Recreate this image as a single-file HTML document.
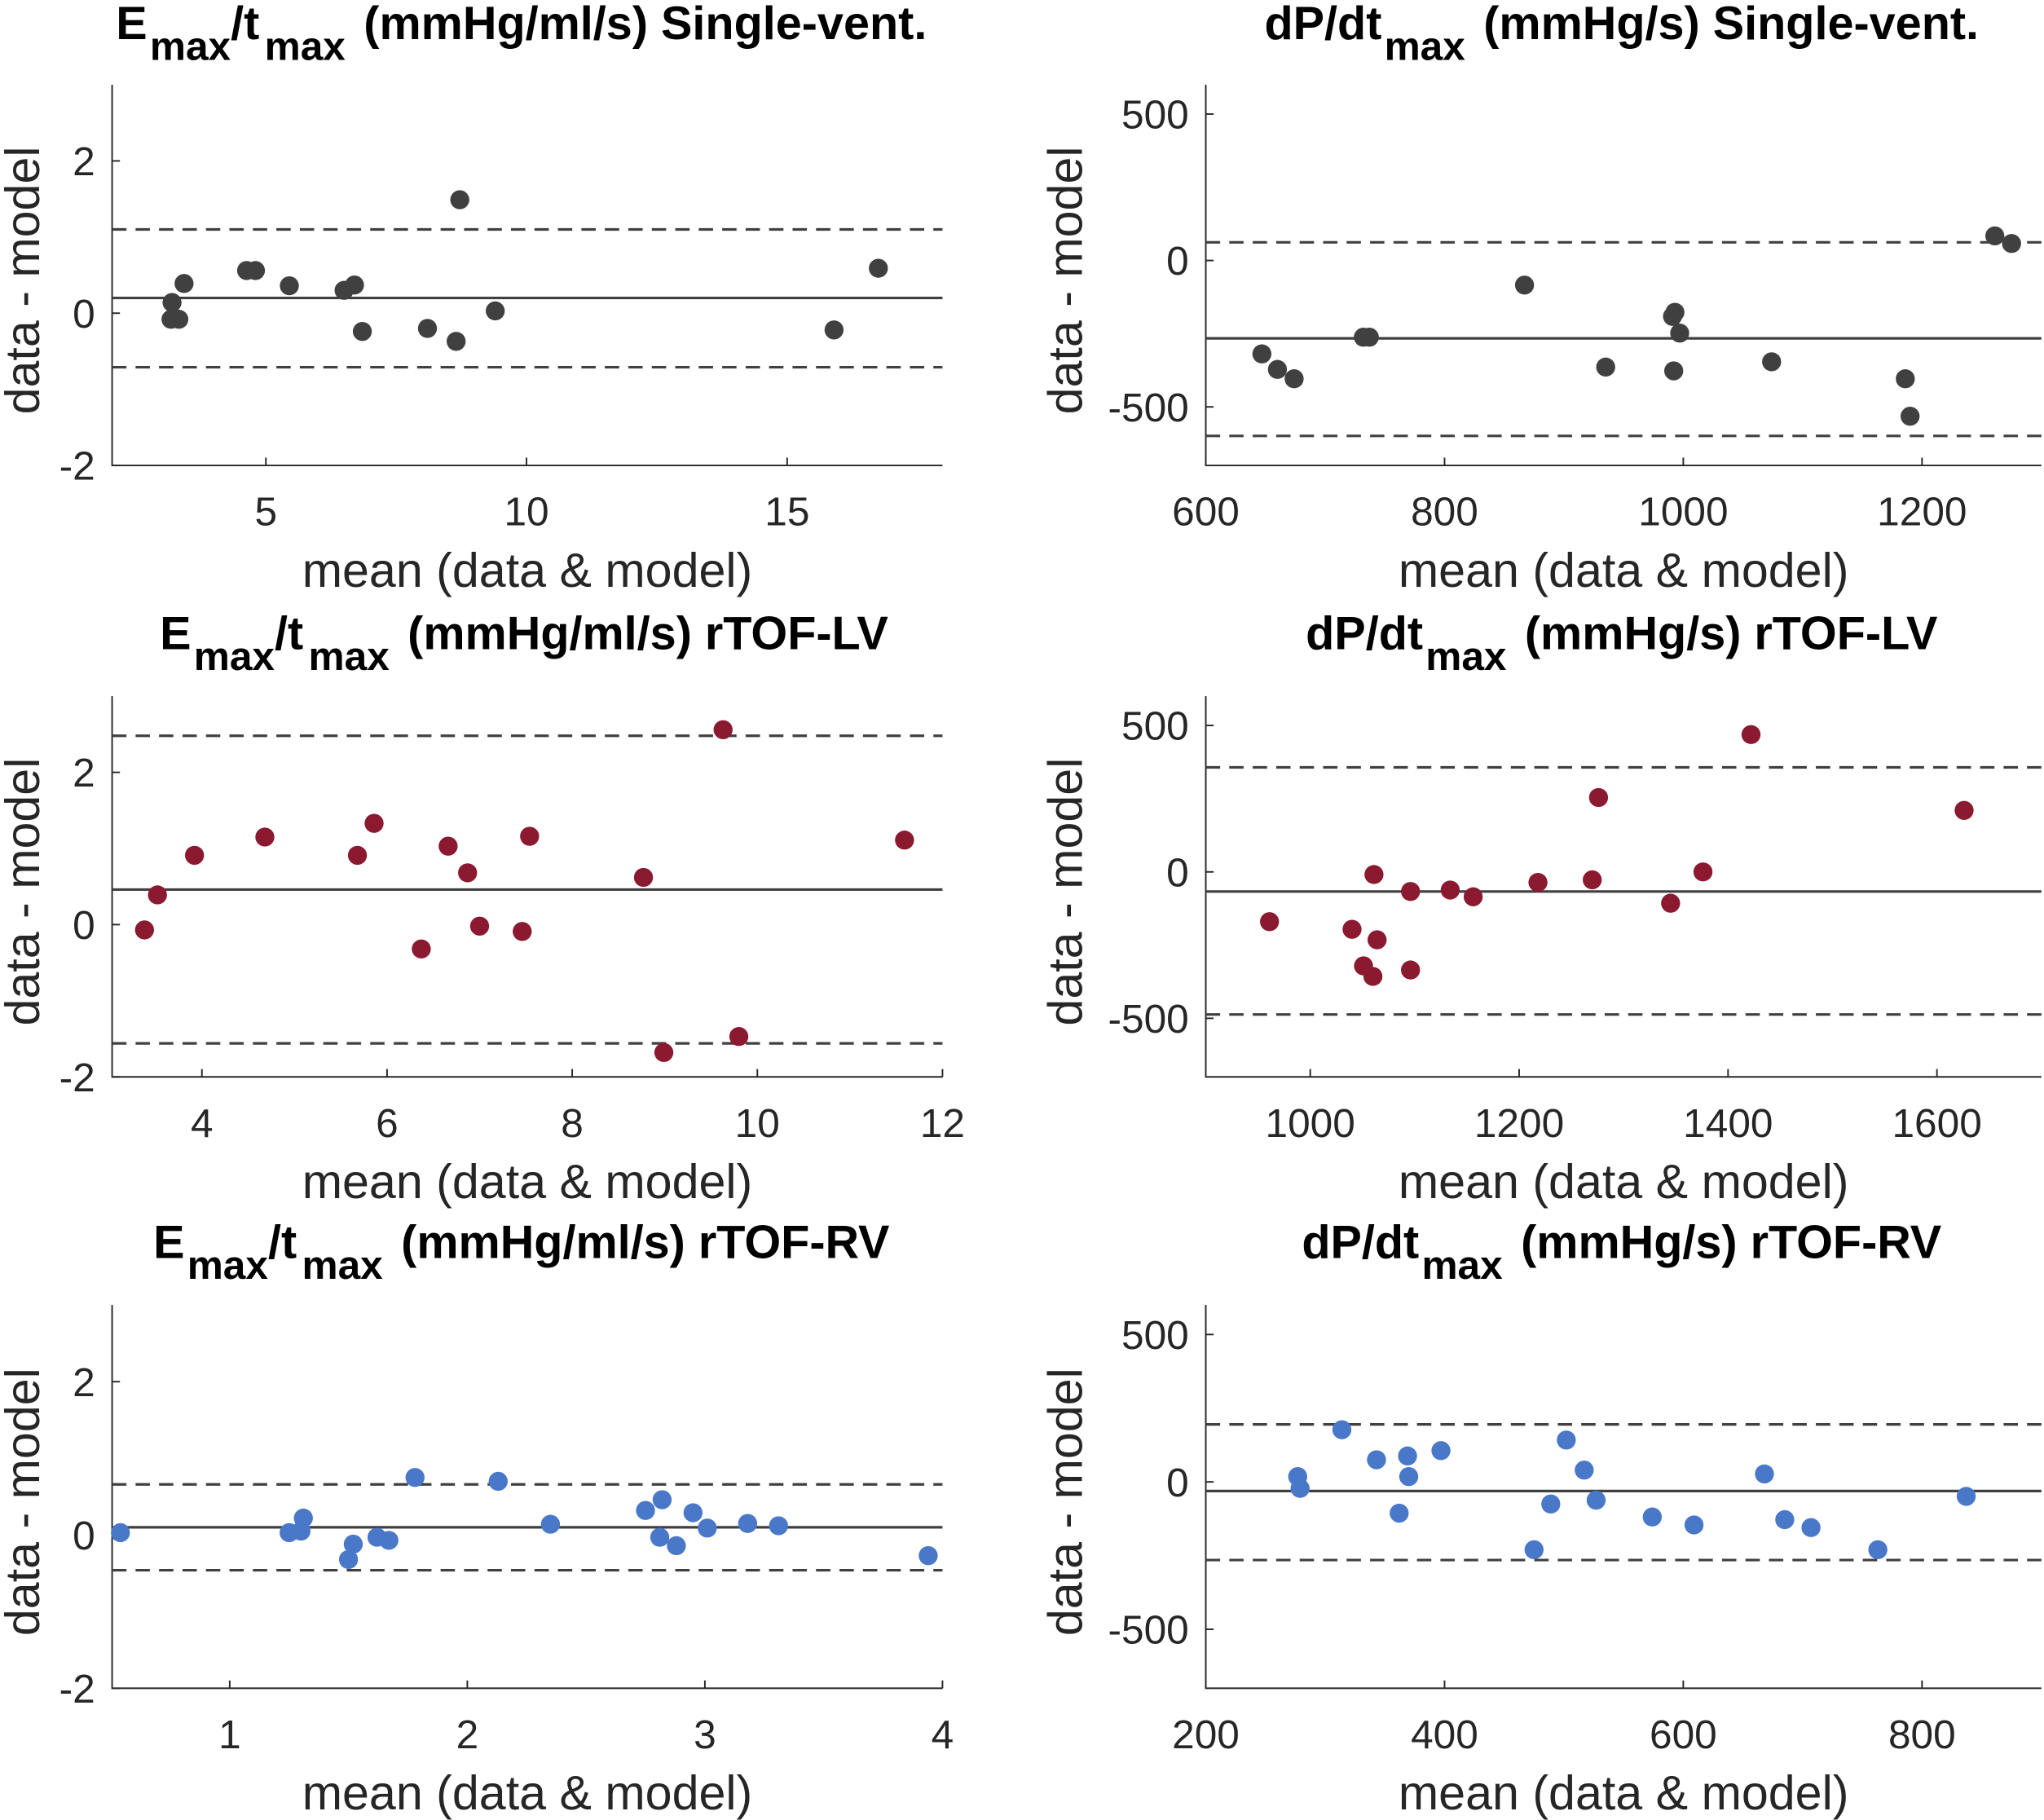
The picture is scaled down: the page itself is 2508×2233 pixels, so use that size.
<!DOCTYPE html>
<html><head><meta charset="utf-8"><style>
html,body{margin:0;padding:0;background:#fff;}
svg{display:block;font-family:"Liberation Sans",Arial,sans-serif;}
</style></head><body>
<svg id="fig" width="2508" height="2233" viewBox="0 0 1568 1396" xmlns="http://www.w3.org/2000/svg"></svg>
<script>
// Panel data arrays
const p1x=[3.2,3.18,3.33,3.43,4.63,4.8,5.45,6.5,6.7,6.85,8.1,8.65,8.72,9.4,15.9,16.75];
const p1y=[0.14,-0.08,-0.08,0.39,0.56,0.56,0.36,0.3,0.37,-0.24,-0.2,-0.37,1.49,0.03,-0.22,0.59];
const p1lines=[0.2,1.1,-0.71];
const p2x=[647,660,674,732,737,867,935,991,993,992,997,1074,1186,1190,1261,1275];
const p2y=[-319,-372,-404,-262,-262,-84,-364,-191,-177,-377,-248,-346,-404,-532,84,58];
const p2lines=[-266,62,-599];
const p3x=[3.38,3.52,3.92,4.68,5.68,5.86,6.37,6.66,6.87,7.0,7.46,7.54,8.77,8.99,9.63,9.8,11.59];
const p3y=[-0.07,0.39,0.91,1.15,0.91,1.33,-0.32,1.03,0.68,-0.02,-0.09,1.16,0.62,-1.68,2.56,-1.47,1.11];
const p3lines=[0.46,2.48,-1.56];
const p4x=[961,1040,1051,1060,1061,1064,1096,1096,1134,1156,1218,1270,1276,1345,1376,1422,1626];
const p4y=[-170,-196,-321,-357,-9,-232,-67,-335,-62,-85,-36,-27,254,-107,0,469,210];
const p4lines=[-67,357,-487];
const p5x=[0.54,1.25,1.30,1.31,1.5,1.52,1.62,1.67,1.78,2.13,2.35,2.75,2.82,2.81,2.88,2.95,3.01,3.18,3.31,3.94];
const p5y=[0.03,0.03,0.05,0.22,-0.32,-0.12,-0.03,-0.07,0.75,0.70,0.14,0.32,0.46,-0.03,-0.14,0.29,0.09,0.15,0.12,-0.27];
const p5lines=[0.1,0.66,-0.46];
const p6x=[277,279,314,343,362,369,370,397,475,489,502,517,527,574,609,668,685,707,763,837];
const p6y=[18,-22,177,75,-106,88,18,106,-230,-75,142,40,-62,-119,-146,27,-128,-155,-230,-49];
const p6lines=[-31,195,-265];
const xt1=[5,10,15], xt2=[600,800,1000,1200], xt3=[4,6,8,10,12], xt4=[1000,1200,1400,1600], xt5=[1,2,3,4], xt6=[200,400,600,800];
const ytE=[-2,0,2], ytD=[-500,0,500];

const NS="http://www.w3.org/2000/svg";
const svg=document.getElementById('fig');
function mk(tag,attrs,parent){const e=document.createElementNS(NS,tag);for(const k in attrs)e.setAttribute(k,attrs[k]);(parent||svg).appendChild(e);return e;}

const panels=[
 {key:'emax-single',L:86,R:723,T:65,B:357,xl:[2.05,17.98],yl:[-2,3],xs:p1x,ys:p1y,ln:p1lines,xt:xt1,yt:ytE,col:'#404040',t1:'E',t2:'/t',t3:' (mmHg/ml/s) Single-vent.',cx:400,ty:30,yx:30},
 {key:'dpdt-single',L:925,R:1566,T:65,B:357,xl:[600,1300],yl:[-700,600],xs:p2x,ys:p2y,ln:p2lines,xt:xt2,yt:ytD,col:'#404040',t1:'dP/dt',t2:null,t3:' (mmHg/s) Single-vent.',cx:1244,ty:30,yx:830},
 {key:'emax-rtof-lv',L:86,R:723,T:534,B:826,xl:[3.03,12],yl:[-2,3],xs:p3x,ys:p3y,ln:p3lines,xt:xt3,yt:ytE,col:'#8b1a30',t1:'E',t2:'/t',t3:' (mmHg/ml/s) rTOF-LV',cx:402,ty:498,yx:30},
 {key:'dpdt-rtof-lv',L:925,R:1566,T:534,B:826,xl:[900,1700],yl:[-700,600],xs:p4x,ys:p4y,ln:p4lines,xt:xt4,yt:ytD,col:'#8b1a30',t1:'dP/dt',t2:null,t3:' (mmHg/s) rTOF-LV',cx:1244,ty:498,yx:830},
 {key:'emax-rtof-rv',L:86,R:723,T:1001,B:1295,xl:[0.505,4],yl:[-2,3],xs:p5x,ys:p5y,ln:p5lines,xt:xt5,yt:ytE,col:'#4a78c8',t1:'E',t2:'/t',t3:' (mmHg/ml/s) rTOF-RV',cx:400,ty:965,yx:30},
 {key:'dpdt-rtof-rv',L:925,R:1566,T:1001,B:1295,xl:[200,900],yl:[-700,600],xs:p6x,ys:p6y,ln:p6lines,xt:xt6,yt:ytD,col:'#4a78c8',t1:'dP/dt',t2:null,t3:' (mmHg/s) rTOF-RV',cx:1244,ty:965,yx:830}
];

panels.forEach(p=>{
 const g=mk('g',{});
 
 
 const X=v=>p.L+(v-p.xl[0])/(p.xl[1]-p.xl[0])*(p.R-p.L);
 const Y=v=>p.B-(v-p.yl[0])/(p.yl[1]-p.yl[0])*(p.B-p.T);
 const ax=mk('path',{d:`M${p.L} ${p.T}V${p.B}H${p.R}`,fill:'none',stroke:'#262626','stroke-width':1.2},g);
 
 
 p.xt.forEach(v=>{
  mk('line',{x1:X(v),x2:X(v),y1:p.B,y2:p.B-6,stroke:'#262626','stroke-width':1.2},g);
  const t=mk('text',{x:X(v),y:p.B+46,'font-size':31,'text-anchor':'middle',fill:'#262626'},g);
  t.textContent=v;
  
  
 });
 p.yt.forEach(v=>{
  mk('line',{x1:p.L,x2:p.L+6,y1:Y(v),y2:Y(v),stroke:'#262626','stroke-width':1.2},g);
  const t=mk('text',{x:p.L-13,y:Y(v)+11,'font-size':31,'text-anchor':'end',fill:'#262626'},g);
  t.textContent=v;
  
  
 });
 p.ln.forEach((v,i)=>{
  const l=mk('line',{x1:p.L,x2:p.R,y1:Y(v),y2:Y(v),stroke:'#404040','stroke-width':2,'stroke-dasharray':i?'11,7':'none'},g);
  
  
 });
 p.xs.forEach((v,i)=>{
  const c=mk('circle',{cx:X(v),cy:Y(p.ys[i]),r:7.3,fill:p.col},g);
  
  
 });
 const xl=mk('text',{x:(p.L+p.R)/2,y:p.B+93,'font-size':37,'text-anchor':'middle',fill:'#262626'},g);
 xl.textContent='mean (data & model)';
 
 
 const yx=p.yx, yy=(p.T+p.B)/2+4;
 const yl=mk('text',{x:yx,y:yy,'font-size':37,'text-anchor':'middle',fill:'#262626',transform:`rotate(-90 ${yx} ${yy})`},g);
 yl.textContent='data - model';
 
 
 const tt=mk('text',{x:p.cx,y:p.ty,'font-size':36,'font-weight':'bold','text-anchor':'middle',fill:'#000'},g);
 
 
 const add=(s,dy,fs,dx)=>{const ts=mk('tspan',{dy:dy},tt);if(fs)ts.setAttribute('font-size',fs);if(dx)ts.setAttribute('dx',dx);ts.textContent=s;};
 add(p.t1,0);
 add('max',16,31,2);
 if(p.t2){add(p.t2,-16);add('max',16,31,4);}
 add(p.t3,-16,null,4);
});
</script>
</body></html>
